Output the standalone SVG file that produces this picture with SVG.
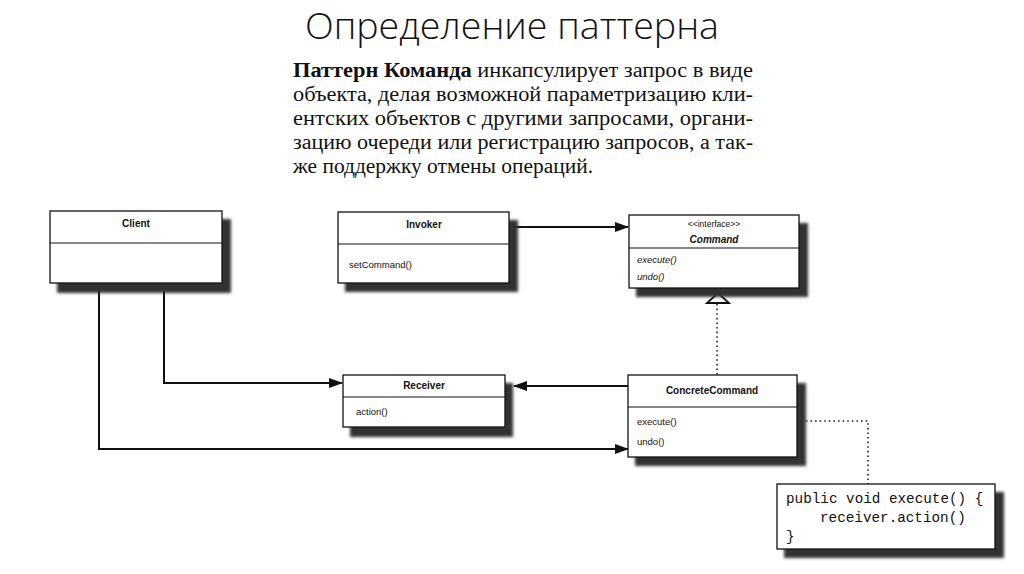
<svg xmlns="http://www.w3.org/2000/svg" width="1024" height="574" viewBox="0 0 1024 574">
<style>
.box{fill:#fff;stroke:#111;stroke-width:1.3}
.sh{fill:#333;filter:url(#blur)}
.div{stroke:#111;stroke-width:1.2}
.name{font-family:"Liberation Sans",Arial,sans-serif;font-size:10px;font-weight:bold;text-anchor:middle;fill:#111}
.op{font-family:"Liberation Sans",Arial,sans-serif;font-size:9.5px;fill:#111}
.it{font-style:italic}
.line{fill:none;stroke:#111;stroke-width:2}
.dot{fill:none;stroke:#222;stroke-width:1.6;stroke-dasharray:1.6 3}
.para{font-family:"Liberation Serif","Times New Roman",serif;font-size:20px;fill:#111}
.code{font-family:"Liberation Mono","Courier New",monospace;font-size:14.3px;fill:#111}
</style>
<defs>
<filter id="blur" x="-10%" y="-10%" width="130%" height="140%"><feGaussianBlur stdDeviation="1.6"/></filter>
<marker id="arr" markerWidth="14" markerHeight="10" refX="13" refY="5" orient="auto" markerUnits="userSpaceOnUse">
<path d="M0,0 L14,5 L0,10 Z" fill="#111"/>
</marker>
</defs>
<rect width="1024" height="574" fill="#fff"/>
<text x="512" y="39" text-anchor="middle" font-family="'Open Sans',sans-serif" font-weight="300" font-size="37" fill="#111" textLength="414" lengthAdjust="spacingAndGlyphs">Определение паттерна</text>
<g id="description" class="para">
<text x="293" y="77" textLength="460" lengthAdjust="spacingAndGlyphs"><tspan font-weight="bold">Паттерн Команда</tspan> инкапсулирует запрос в виде</text>
<text x="293" y="101" textLength="460" lengthAdjust="spacingAndGlyphs">объекта, делая возможной параметризацию кли-</text>
<text x="293" y="125" textLength="460" lengthAdjust="spacingAndGlyphs">ентских объектов с другими запросами, органи-</text>
<text x="293" y="149" textLength="460" lengthAdjust="spacingAndGlyphs">зацию очереди или регистрацию запросов, а так-</text>
<text x="293" y="173" textLength="300" lengthAdjust="spacingAndGlyphs">же поддержку отмены операций.</text>
</g>
<g id="connectors">
<path class="line" d="M164,290 V383 H342" marker-end="url(#arr)"/>
<path class="line" d="M99,290 V449 H628" marker-end="url(#arr)"/>
<path class="line" d="M515,227 H628" marker-end="url(#arr)"/>
<path class="line" d="M628,386 H514" marker-end="url(#arr)"/>
<path class="dot" d="M717,304 V375"/>
<path d="M718,293 L707,303 L729,303 Z" fill="#fff" stroke="#111" stroke-width="1.8"/>
<path class="dot" d="M700,421 H868 V484"/>
</g>
<g id="client">
<rect class="sh" x="57" y="219" width="174" height="74"/>
<rect class="box" x="50" y="211" width="172" height="72"/>
<line class="div" x1="50" y1="243" x2="222" y2="243"/>
<text class="name" x="136" y="227">Client</text>
</g>
<g id="invoker">
<rect class="sh" x="345" y="220" width="173" height="72"/>
<rect class="box" x="338" y="212" width="171" height="71"/>
<line class="div" x1="338" y1="244" x2="509" y2="244"/>
<text class="name" x="424" y="228">Invoker</text>
<text class="op" x="349" y="268">setCommand()</text>
</g>
<g id="command">
<rect class="sh" x="636" y="223" width="172" height="74"/>
<rect class="box" x="629" y="215" width="170" height="73"/>
<line class="div" x1="629" y1="248" x2="799" y2="248"/>
<text x="714" y="227" text-anchor="middle" font-family="'Liberation Sans',Arial,sans-serif" font-size="8.5" fill="#111">&lt;&lt;interface&gt;&gt;</text>
<text class="name it" x="714" y="243">Command</text>
<text class="op it" x="637" y="263">execute()</text>
<text class="op it" x="637" y="280">undo()</text>
</g>
<g id="receiver">
<rect class="sh" x="350" y="383" width="163" height="54"/>
<rect class="box" x="343" y="375" width="162" height="52"/>
<line class="div" x1="343" y1="397" x2="505" y2="397"/>
<text class="name" x="424" y="389">Receiver</text>
<text class="op" x="356" y="415">action()</text>
</g>
<g id="concrete-command">
<rect class="sh" x="635" y="383" width="171" height="83"/>
<rect class="box" x="628" y="375" width="169" height="82"/>
<line class="div" x1="628" y1="407" x2="797" y2="407"/>
<text class="name" x="712" y="394">ConcreteCommand</text>
<text class="op" x="637" y="425">execute()</text>
<text class="op" x="637" y="445">undo()</text>
</g>
<g id="note">
<rect class="sh" x="784" y="492" width="220" height="66"/>
<rect class="box" x="777" y="484" width="218" height="65"/>
<text class="code" x="786" y="503">public void execute() {</text>
<text class="code" x="820" y="522">receiver.action()</text>
<text class="code" x="786" y="541">}</text>
</g>
</svg>
